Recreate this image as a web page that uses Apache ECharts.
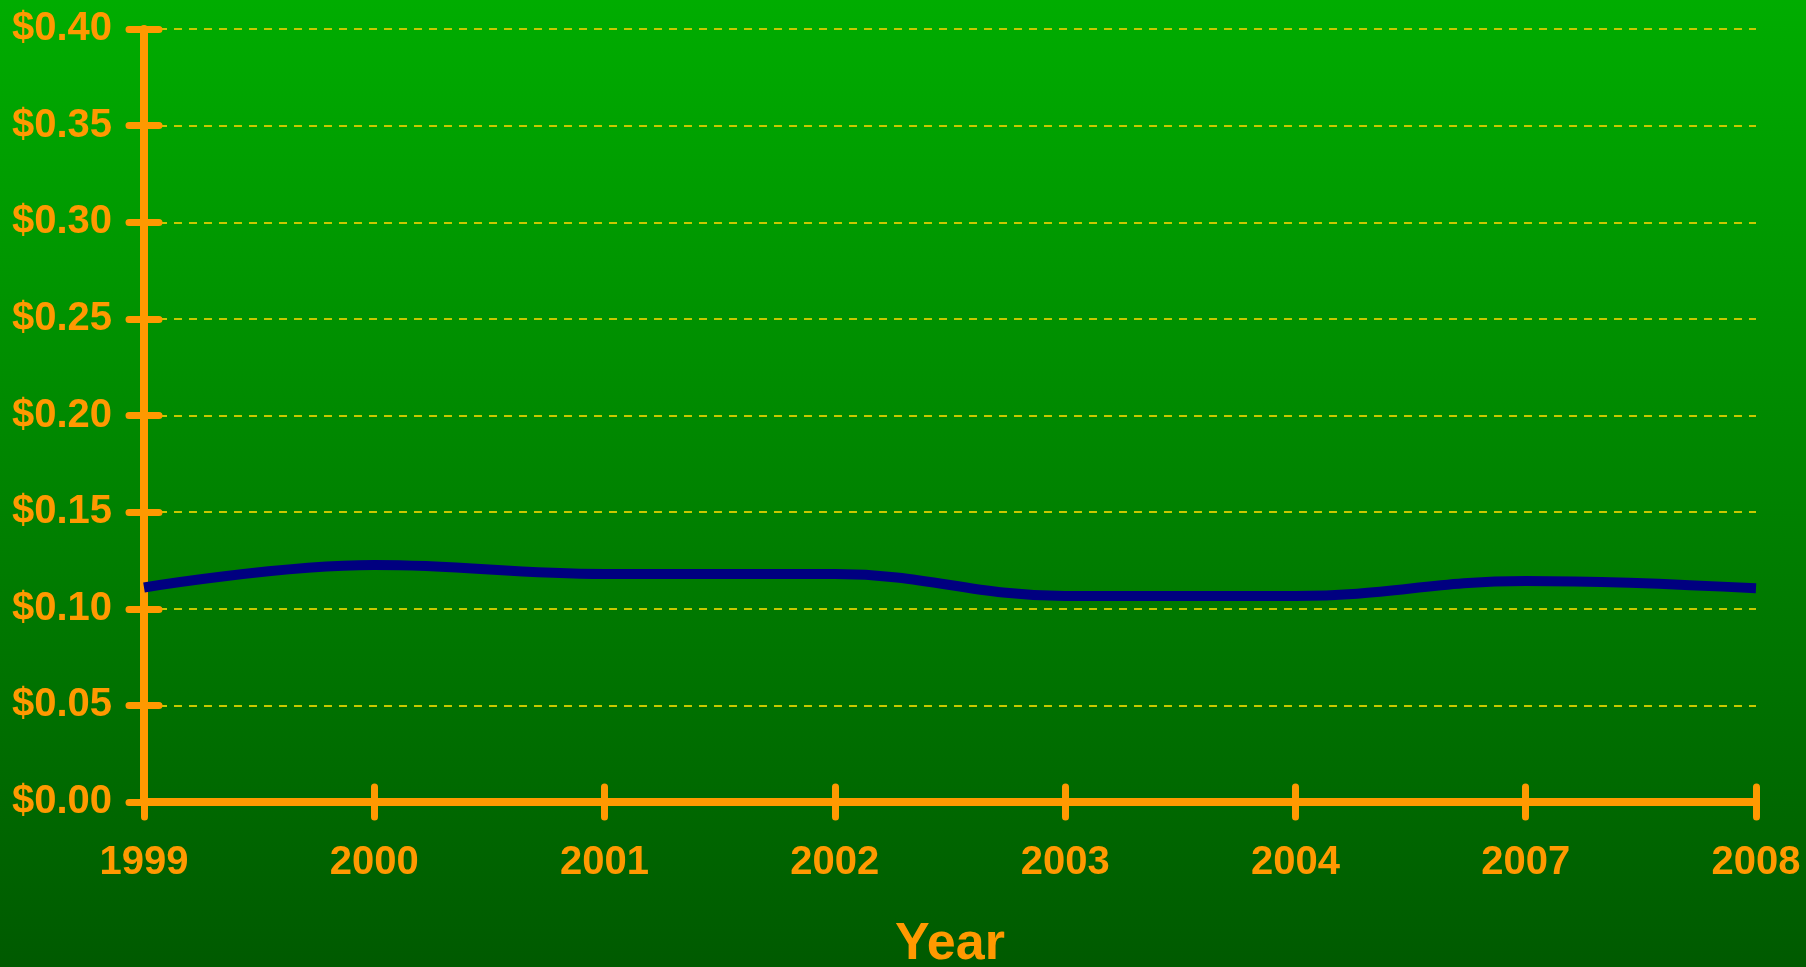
<!DOCTYPE html>
<html>
<head>
<meta charset="utf-8">
<script src="https://cdn.jsdelivr.net/npm/echarts@6/dist/echarts.min.js"></script>
<style>
html,body{margin:0;padding:0;}
#chart{width:1806px;height:967px;}
</style>
</head>
<body>
<div id="chart"></div>
<script>
const years = ['1999', '2000', '2001', '2002', '2003', '2004', '2007', '2008'];
const prices = [0.111, 0.1226, 0.118, 0.118, 0.1066, 0.1066, 0.1144, 0.1106];
const yMin = 0, yMax = 0.40, yStep = 0.05;
const xName = 'Year';

const orange = '#FF9900';
const fontFam = '"Liberation Sans", Arial, sans-serif';

const chart = echarts.init(document.getElementById('chart'));
const yBase = {
  type: 'value', min: yMin, max: yMax, interval: yStep, position: 'left', offset: 0
};
chart.setOption({
  backgroundColor: {
    type: 'linear', x: 0, y: 0, x2: 0, y2: 1,
    colorStops: [{offset: 0, color: '#00AD00'}, {offset: 1, color: '#005A00'}]
  },
  grid: {left: 144, right: 50, top: 29, bottom: 165, containLabel: false, outerBoundsMode: 'none'},
  xAxis: [{
    type: 'category', data: years, boundaryGap: false, position: 'bottom',
    name: xName, nameLocation: 'middle', nameGap: 117,
    nameTextStyle: {color: orange, fontSize: 52, fontWeight: 'bold', fontFamily: fontFam},
    axisLine: {show: true, lineStyle: {color: orange, width: 8, cap: 'round'}},
    axisTick: {show: true, inside: false, length: 15, lineStyle: {color: orange, width: 7, cap: 'round'}},
    axisLabel: {color: orange, fontSize: 40, fontWeight: 'bold', fontFamily: fontFam, margin: 41},
    splitLine: {show: false}
  }, {
    type: 'category', data: years, boundaryGap: false, position: 'bottom', offset: 0,
    axisLine: {show: false},
    axisTick: {show: true, inside: true, length: 15, lineStyle: {color: orange, width: 7, cap: 'round'}},
    axisLabel: {show: false},
    splitLine: {show: false}
  }],
  yAxis: [Object.assign({}, yBase, {
    axisLine: {show: true, lineStyle: {color: orange, width: 8, cap: 'round'}},
    axisTick: {show: true, inside: false, length: 15, lineStyle: {color: orange, width: 7, cap: 'round'}},
    axisLabel: {
      color: orange, fontSize: 40, fontWeight: 'bold', fontFamily: fontFam, margin: 32,
      formatter: v => '$' + v.toFixed(2)
    },
    splitLine: {show: true, lineStyle: {color: '#C8C800', width: 2, type: [8, 7]}}
  }), Object.assign({}, yBase, {
    axisLine: {show: false},
    axisTick: {show: true, inside: true, length: 15, lineStyle: {color: orange, width: 7, cap: 'round'}},
    axisLabel: {show: false},
    splitLine: {show: false}
  })],
  series: [{
    type: 'line', data: prices, xAxisIndex: 0, yAxisIndex: 0,
    smooth: 0.4, symbol: 'none',
    lineStyle: {color: '#000080', width: 10},
    z: 1
  }],
  animation: false
});
</script>
</body>
</html>
